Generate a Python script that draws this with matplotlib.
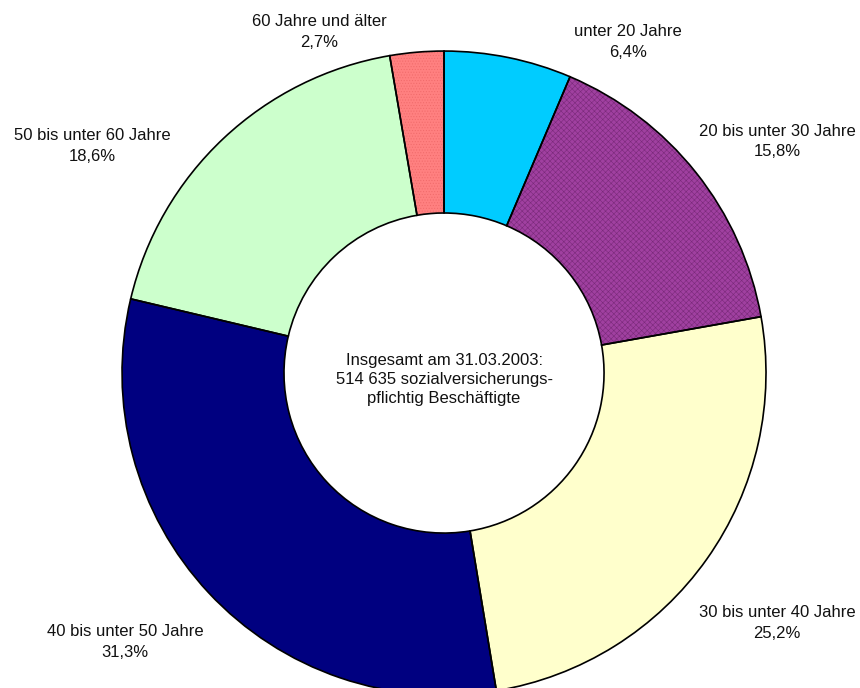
import matplotlib.pyplot as plt

# Altersgruppen, im Uhrzeigersinn ab 12 Uhr
gruppen = ["unter 20 Jahre", "20 bis unter 30 Jahre", "30 bis unter 40 Jahre",
           "40 bis unter 50 Jahre", "50 bis unter 60 Jahre", "60 Jahre und älter"]
anteile = [6.4, 15.8, 25.2, 31.3, 18.6, 2.7]
farben = ["#00ccff", "#a040a0", "#ffffcc", "#000080", "#ccffcc", "#ff8080"]
muster = [None, "xxxxxx", None, None, None, "......"]
musterfarben = [None, "#7a2a7a", None, None, None, "#f06a6a"]

# Beschriftungspositionen (Datenkoordinaten, Radius = 1)
label_pos = [(0.571, 1.028), (1.034, 0.720), (1.034, -0.776),
             (-0.991, -0.835), (-1.093, 0.705), (-0.388, 1.059)]

plt.rcParams['font.family'] = ['Liberation Sans', 'DejaVu Sans']
plt.rcParams['hatch.linewidth'] = 0.4

fig = plt.figure(figsize=(8.6, 6.88), dpi=100)
ax = fig.add_axes([0.1419, -0.0102, 0.7488, 0.936])

wedges, _ = ax.pie(anteile, colors=farben, startangle=90, counterclock=False,
                   wedgeprops=dict(width=0.503, linewidth=0))

# feine Struktur auf zwei Segmenten
for w, h, hc in zip(wedges, muster, musterfarben):
    if h:
        w.set_hatch(h)
        w.set_edgecolor(hc)

# schwarze Umrandung über alle Segmente
ax.pie(anteile, colors=["none"] * len(anteile), startangle=90, counterclock=False,
       wedgeprops=dict(width=0.503, edgecolor="black", linewidth=1.2, fill=False))

ax.set_aspect('auto')
ax.set_xlim(-1, 1)
ax.set_ylim(-1, 1)
ax.axis('off')

for name, wert, (x, y) in zip(gruppen, anteile, label_pos):
    ax.text(x, y, f"{name}\n{wert:.1f}%".replace(".", ","), ha="center", va="center",
            fontsize=12, linespacing=1.45, color="#111111", clip_on=False)

ax.text(0, -0.02, "Insgesamt am 31.03.2003:\n514 635 sozialversicherungs-\npflichtig Beschäftigte",
        ha="center", va="center", fontsize=12, linespacing=1.35, color="#111111")

fig.savefig("out.png", dpi=100)
